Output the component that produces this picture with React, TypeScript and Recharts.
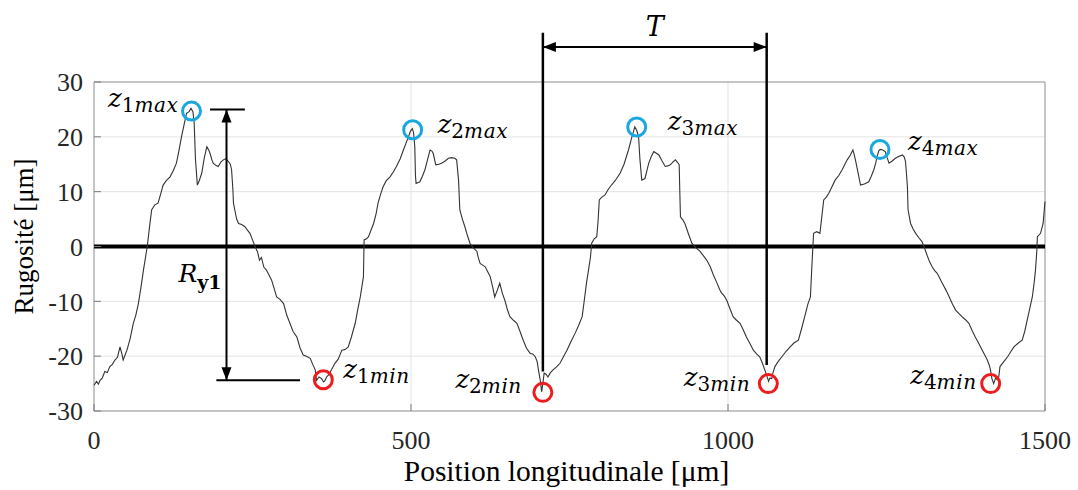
import React from 'react';
import { LineChart, Line, XAxis, YAxis, CartesianGrid, ReferenceLine, ReferenceDot, ReferenceArea } from 'recharts';

// profil de rugosité (x en µm, z en µm)
const positionUm = [
  0, 4, 7, 9.5, 13, 17, 21, 25, 29, 33, 37, 41, 44, 46, 49, 52, 57, 62, 66, 70, 74, 78, 84, 88, 91, 96, 101, 105, 109, 114,
  120, 125, 130, 134, 138, 142, 146, 150, 153, 156, 158, 160, 163, 166, 170, 174, 178, 181, 183, 186, 188, 192, 196, 200, 204,
  208, 212, 215, 217, 219, 220, 222, 225, 228, 233, 238, 242, 246, 250, 254, 258, 261, 264, 268, 272, 276, 280, 284, 288, 293,
  299, 304, 309, 314, 320, 325, 330, 335, 341, 345, 349, 351, 355, 359, 362, 364, 367, 370, 375, 380, 385, 391, 396, 401, 406,
  412, 416, 420, 423, 425, 426, 430, 433, 437, 441, 445, 448, 452, 456, 461, 467, 472, 477, 483, 488, 492, 496, 499, 502, 504,
  506, 507, 508, 514, 518, 522, 526, 530, 533, 535, 537, 539, 544, 548, 554, 559, 564, 569, 572, 575, 577, 581, 585, 589, 593,
  598, 604, 606, 609, 613, 617, 621, 625, 629, 632, 636, 640, 644, 648, 652, 656, 662, 667, 672, 677, 682, 688, 692, 696, 699,
  701, 704, 706, 708, 710, 713, 716, 720, 724, 730, 735, 740, 746, 752, 759, 764, 770, 774, 777, 780, 783, 785, 789, 793, 795,
  797, 801, 806, 810, 814, 822, 830, 836, 843, 848, 853, 856, 859, 861, 864, 869, 872, 875, 879, 883, 887, 891, 896, 901, 905,
  909, 913, 917, 920, 923, 924, 925, 929, 932, 937, 943, 949, 956, 962, 967, 972, 977, 982, 987, 990, 994, 998, 1003, 1008, 1013,
  1019, 1024, 1029, 1035, 1040, 1045, 1050, 1054, 1058, 1061, 1064, 1066, 1069, 1071, 1074, 1079, 1085, 1091, 1098, 1104, 1111,
  1116, 1121, 1126, 1130, 1132, 1135, 1140, 1145, 1148, 1151, 1155, 1159, 1164, 1169, 1175, 1180, 1184, 1188, 1193, 1197, 1199,
  1201, 1205, 1209, 1215, 1222, 1226, 1230, 1233, 1235, 1238, 1240, 1244, 1248, 1251, 1254, 1259, 1264, 1269, 1275, 1278, 1280,
  1282, 1283, 1284, 1288, 1292, 1296, 1301, 1306, 1310, 1314, 1318, 1322, 1326, 1330, 1334, 1338, 1344, 1349, 1354, 1359, 1364,
  1369, 1375, 1380, 1385, 1390, 1396, 1401, 1405, 1409, 1412, 1414, 1416, 1419, 1422, 1425, 1427, 1429, 1435, 1441, 1446, 1451,
  1458, 1464, 1468, 1472, 1476, 1480, 1483, 1485, 1487, 1488, 1493, 1497, 1500,
];

const roughnessUm = [
  -25.3, -24.6, -25.1, -24.4, -24.0, -22.8, -23.0, -21.9, -21.5, -20.7, -20.2, -18.3, -19.6, -20.7, -19.8, -18.9, -16.8, -14, -12.5, -10.4,
  -7.5, -4.3, 0, 4, 6.7, 7.6, 7.9, 9.5, 11.2, 12.0, 12.7, 13.8, 15.2, 17.5, 20, 22.2, 24.3, 24.6, 25.2, 24.6, 22.5, 16, 11.2, 12.0, 13.4,
  16.2, 18.2, 17.6, 17, 15.8, 15.2, 14.8, 14.6, 15.4, 15.8, 16.0, 15.5, 15.0, 14, 10.5, 7.9, 6.7, 5.0, 4.2, 4.0, 3.6, 3.0, 2.4, 1.2, 0,
  -1.0, -2.5, -2.0, -3.8, -4.3, -5.2, -6.1, -7.6, -9.2, -9.6, -10.4, -12.5, -14, -15.5, -16.5, -18.5, -19.8, -20.0, -20.4, -21.5, -22.5,
  -24.4, -23.8, -24.1, -24.7, -24.5, -23.8, -23.4, -22.4, -21.3, -20.6, -18.9, -18.8, -18.3, -16.5, -14, -11.5, -9.2, -7, -5.5, 1.2, 1.4,
  1.8, 3.0, 4.2, 6.0, 7.9, 9.5, 10.9, 12.0, 12.7, 13.6, 14.6, 16.0, 17.6, 18.8, 20, 21.0, 21.5, 20.8, 18.2, 13, 11.5, 11.8, 12.8, 14,
  15.8, 17.6, 17.4, 17, 16, 14.9, 15.0, 15.2, 15.6, 16.1, 16.2, 16.1, 15.8, 12.1, 6.7, 5.0, 3.6, 2.0, 0.6, -0.2, -0.9, -2.0, -3.1, -3.4,
  -3.7, -4.6, -5.5, -7.5, -9.2, -8.0, -6.7, -8.5, -9.8, -11.5, -12.8, -13.5, -14, -15.5, -17.1, -18.5, -19.5, -19.6, -20.1, -21.0, -22.5,
  -24.5, -26.5, -25.0, -23.1, -23.3, -23.8, -23.0, -22.5, -21.9, -21.3, -20.2, -18.9, -17.4, -15.8, -14.5, -12.8, -9.2, -6.5, -4.3, -2.0,
  0.6, 1.4, 1.8, 4.5, 8.5, 9.0, 9.4, 10.2, 10.9, 12.0, 13.4, 15.0, 17.6, 19.8, 21.8, 21.2, 20, 16, 12.1, 12.4, 13.8, 15.2, 16.4, 17.3,
  17.0, 16.7, 15.6, 14.6, 14.7, 14.9, 15.4, 15.8, 15.4, 14.9, 10, 5.4, 4.8, 4.2, 2.5, 0.6, -0.2, -0.9, -1.8, -2.6, -3.7, -5.2, -6.5,
  -7.9, -8.5, -9.0, -9.8, -11.3, -12.8, -13.4, -14, -15.2, -16.5, -17.8, -18.9, -19.6, -20.1, -21.2, -22.5, -23.5, -24.6, -24.0, -24.1,
  -23.0, -21.9, -21.0, -20.1, -19.2, -18.3, -17.6, -17.1, -15.0, -12.8, -10.5, -9.2, -4.3, 2.4, 2.7, 2.4, 5.5, 8.5, 9.0, 9.7, 10.9,
  12.1, 13.0, 14, 14.9, 15.8, 16.7, 17.6, 16.8, 15.8, 13.5, 11.2, 11.4, 11.8, 12.8, 14, 15.2, 16.4, 17.5, 17.7, 17.6, 17.3, 16.2, 15.2,
  15.6, 16.1, 16.4, 16.7, 16.3, 15.5, 12.5, 10.9, 6.7, 4.2, 3.2, 2.4, 1.6, 0.9, -0.3, -1.6, -2.8, -3.7, -4.4, -4.9, -5.8, -6.7, -8.0,
  -9.2, -10.5, -11.6, -12.2, -12.8, -13.4, -14, -15.3, -16.5, -17.8, -18.9, -19.8, -20.7, -21.6, -22.5, -24.0, -25.0, -24.0, -24.3,
  -23.8, -21.9, -21.0, -20.1, -19.2, -18.3, -17.6, -17.1, -15.5, -13.4, -11.3, -9.2, -6.5, -4.3, -1.0, 1.8, 2.4, 4.2, 8.2,
];

const xTicks = [0, 500, 1000, 1500];
const yTicks = [-30, -20, -10, 0, 10, 20, 30];

// pics (z_max) et creux (z_min) entourés
const peakX = [153.8, 502.6, 856, 1239.7];
const peakY = [24.7, 21.3, 21.8, 17.7];
const valleyX = [361.7, 708, 1063.6, 1414.3];
const valleyY = [-24.3, -26.6, -25, -25];

// période T
const periodX = [708, 1061];
const periodBottomY = [-22.8, -21.6];
const periodTopY = 39;
const periodArrowY = 36.4;

// amplitude R_y1
const ryX = 209;
const ryTopY = 25;
const ryBottomY = -24.4;
const ryTopBar = [183, 238];
const ryBottomBar = [193, 325];

const data = positionUm.map((x, i) => ({ x, z: roughnessUm[i] }));

// décalage des étiquettes par rapport aux cercles (px)
const peakLabelPos = [
  { dx: -13, dy: -4, anchor: 'end' },
  { dx: 25, dy: 3, anchor: 'start' },
  { dx: 31, dy: 3, anchor: 'start' },
  { dx: 28, dy: 1, anchor: 'start' },
];
const valleyLabelPos = [
  { dx: 20, dy: -2, anchor: 'start' },
  { dx: -21, dy: -4, anchor: 'end' },
  { dx: -18, dy: 2, anchor: 'end' },
  { dx: -14, dy: 0, anchor: 'end' },
];

const MATH_FONT = '"DejaVu Serif", serif';
const AXIS_FONT = '"Liberation Serif", "Times New Roman", Tinos, serif';
const TICK_COLOR = '#7a7a7a';

const arrowHead = (x: number, y: number, ux: number, uy: number, len = 13, half = 5) => {
  const bx = x - ux * len;
  const by = y - uy * len;
  const px = -uy * half;
  const py = ux * half;
  return `${x},${y} ${bx + px},${by + py} ${bx - px},${by - py}`;
};

const doubleArrow = (p: any, children?: React.ReactNode) => {
  const { x1, y1, x2, y2 } = p;
  const len = Math.hypot(x2 - x1, y2 - y1) || 1;
  const ux = (x2 - x1) / len;
  const uy = (y2 - y1) / len;
  return (
    <g>
      <line x1={x1} y1={y1} x2={x2} y2={y2} stroke="#000" strokeWidth={2} />
      <polygon points={arrowHead(x2, y2, ux, uy)} fill="#000" />
      <polygon points={arrowHead(x1, y1, -ux, -uy)} fill="#000" />
      {children}
    </g>
  );
};

const plainLine = (w: number) => (p: any) => (
  <line x1={p.x1} y1={p.y1} x2={p.x2} y2={p.y2} stroke="#000" strokeWidth={w} />
);

const circleWithLabel = (color: string, idx: number, kind: string, pos: any) => (p: any) => (
  <g>
    <circle cx={p.cx} cy={p.cy} r={9} fill="none" stroke={color} strokeWidth={3} />
    <text x={p.cx + pos.dx} y={p.cy + pos.dy} textAnchor={pos.anchor} style={{ fontFamily: MATH_FONT }} fill="#000">
      <tspan fontStyle="italic" fontSize={26}>z</tspan>
      <tspan fontSize={20} dy={5}>{idx}</tspan>
      <tspan fontSize={20} fontStyle="italic" letterSpacing={0.6}>{kind}</tspan>
    </text>
  </g>
);

export default function App() {
  return (
    <div style={{ position: 'absolute', left: 0, top: 0, width: 1078, height: 490, background: '#fff' }}>
      <LineChart width={1078} height={490} data={data} margin={{ top: 82, right: 33, left: 0, bottom: 0 }}>
        <CartesianGrid stroke="#e3e3e3" strokeWidth={1} />
        <XAxis
          type="number"
          dataKey="x"
          domain={[0, 1500]}
          ticks={xTicks}
          height={79}
          axisLine={false}
          tickLine={{ stroke: TICK_COLOR }}
          tickSize={-7}
          tickMargin={27}
          tick={{ style: { fontFamily: AXIS_FONT }, fontSize: 26, fill: '#262626' }}
          label={(props: any) => {
            const vb = props.viewBox || { x: 94, y: 411, width: 951 };
            return (
              <text x={vb.x + vb.width / 2 - 3} y={vb.y + 70} textAnchor="middle" style={{ fontFamily: AXIS_FONT }} fontSize={29.5} fill="#000">
                Position longitudinale [μm]
              </text>
            );
          }}
        />
        <XAxis
          xAxisId="top"
          orientation="top"
          type="number"
          dataKey="x"
          domain={[0, 1500]}
          ticks={xTicks}
          height={0}
          axisLine={false}
          tickLine={{ stroke: TICK_COLOR }}
          tickSize={-7}
          tick={false}
        />
        <YAxis
          type="number"
          domain={[-30, 30]}
          ticks={yTicks}
          width={94}
          axisLine={false}
          tickLine={{ stroke: TICK_COLOR }}
          tickSize={-7}
          tickMargin={18}
          tick={{ style: { fontFamily: AXIS_FONT }, fontSize: 26, fill: '#262626' }}
          label={(props: any) => {
            const vb = props.viewBox || { x: 0, y: 82, height: 329 };
            const cy = vb.y + vb.height / 2 - 10;
            return (
              <text x={33} y={cy} transform={`rotate(-90, 33, ${cy})`} textAnchor="middle" style={{ fontFamily: AXIS_FONT }} fontSize={27} fill="#000">
                Rugosité [μm]
              </text>
            );
          }}
        />
        <YAxis
          yAxisId="right"
          orientation="right"
          type="number"
          domain={[-30, 30]}
          ticks={yTicks}
          width={0}
          axisLine={false}
          tickLine={{ stroke: TICK_COLOR }}
          tickSize={-7}
          tick={false}
        />
        <ReferenceArea x1={0} x2={1500} y1={-30} y2={30} fill="none" stroke="#9a9a9a" strokeWidth={1} />
        <ReferenceLine y={0} stroke="#000" strokeWidth={4} />
        <Line type="linear" dataKey="z" stroke="#333" strokeWidth={1.1} dot={false} isAnimationActive={false} />

        {periodX.map((x, i) => (
          <ReferenceLine
            key={`per-${i}`}
            ifOverflow="visible"
            segment={[{ x, y: periodBottomY[i] }, { x, y: periodTopY }]}
            shape={plainLine(2.5)}
          />
        ))}
        <ReferenceLine
          ifOverflow="visible"
          segment={[{ x: periodX[0], y: periodArrowY }, { x: periodX[1], y: periodArrowY }]}
          shape={(p: any) =>
            doubleArrow(
              p,
              <text x={(p.x1 + p.x2) / 2} y={p.y1 - 11} textAnchor="middle" style={{ fontFamily: MATH_FONT }} fontStyle="italic" fontSize={27} fill="#000">
                T
              </text>
            )
          }
        />

        <ReferenceLine ifOverflow="visible" segment={[{ x: ryTopBar[0], y: ryTopY }, { x: ryTopBar[1], y: ryTopY }]} shape={plainLine(2)} />
        <ReferenceLine ifOverflow="visible" segment={[{ x: ryBottomBar[0], y: ryBottomY }, { x: ryBottomBar[1], y: ryBottomY }]} shape={plainLine(2)} />
        <ReferenceLine
          ifOverflow="visible"
          segment={[{ x: ryX, y: ryTopY }, { x: ryX, y: ryBottomY }]}
          shape={(p: any) =>
            doubleArrow(
              p,
              <text x={p.x1 - 5} y={(p.y1 + p.y2) / 2 + 37} textAnchor="end" style={{ fontFamily: MATH_FONT }} fill="#000">
                <tspan fontStyle="italic" fontSize={25}>R</tspan>
                <tspan fontSize={19} fontWeight={600} dy={7}>y1</tspan>
              </text>
            )
          }
        />

        {peakX.map((x, i) => (
          <ReferenceDot
            key={`pk-${i}`}
            x={x}
            y={peakY[i]}
            r={9}
            ifOverflow="visible"
            shape={circleWithLabel('#1aa7e0', i + 1, 'max', peakLabelPos[i])}
          />
        ))}
        {valleyX.map((x, i) => (
          <ReferenceDot
            key={`vl-${i}`}
            x={x}
            y={valleyY[i]}
            r={9}
            ifOverflow="visible"
            shape={circleWithLabel('#ee1c1c', i + 1, 'min', valleyLabelPos[i])}
          />
        ))}
      </LineChart>
    </div>
  );
}
